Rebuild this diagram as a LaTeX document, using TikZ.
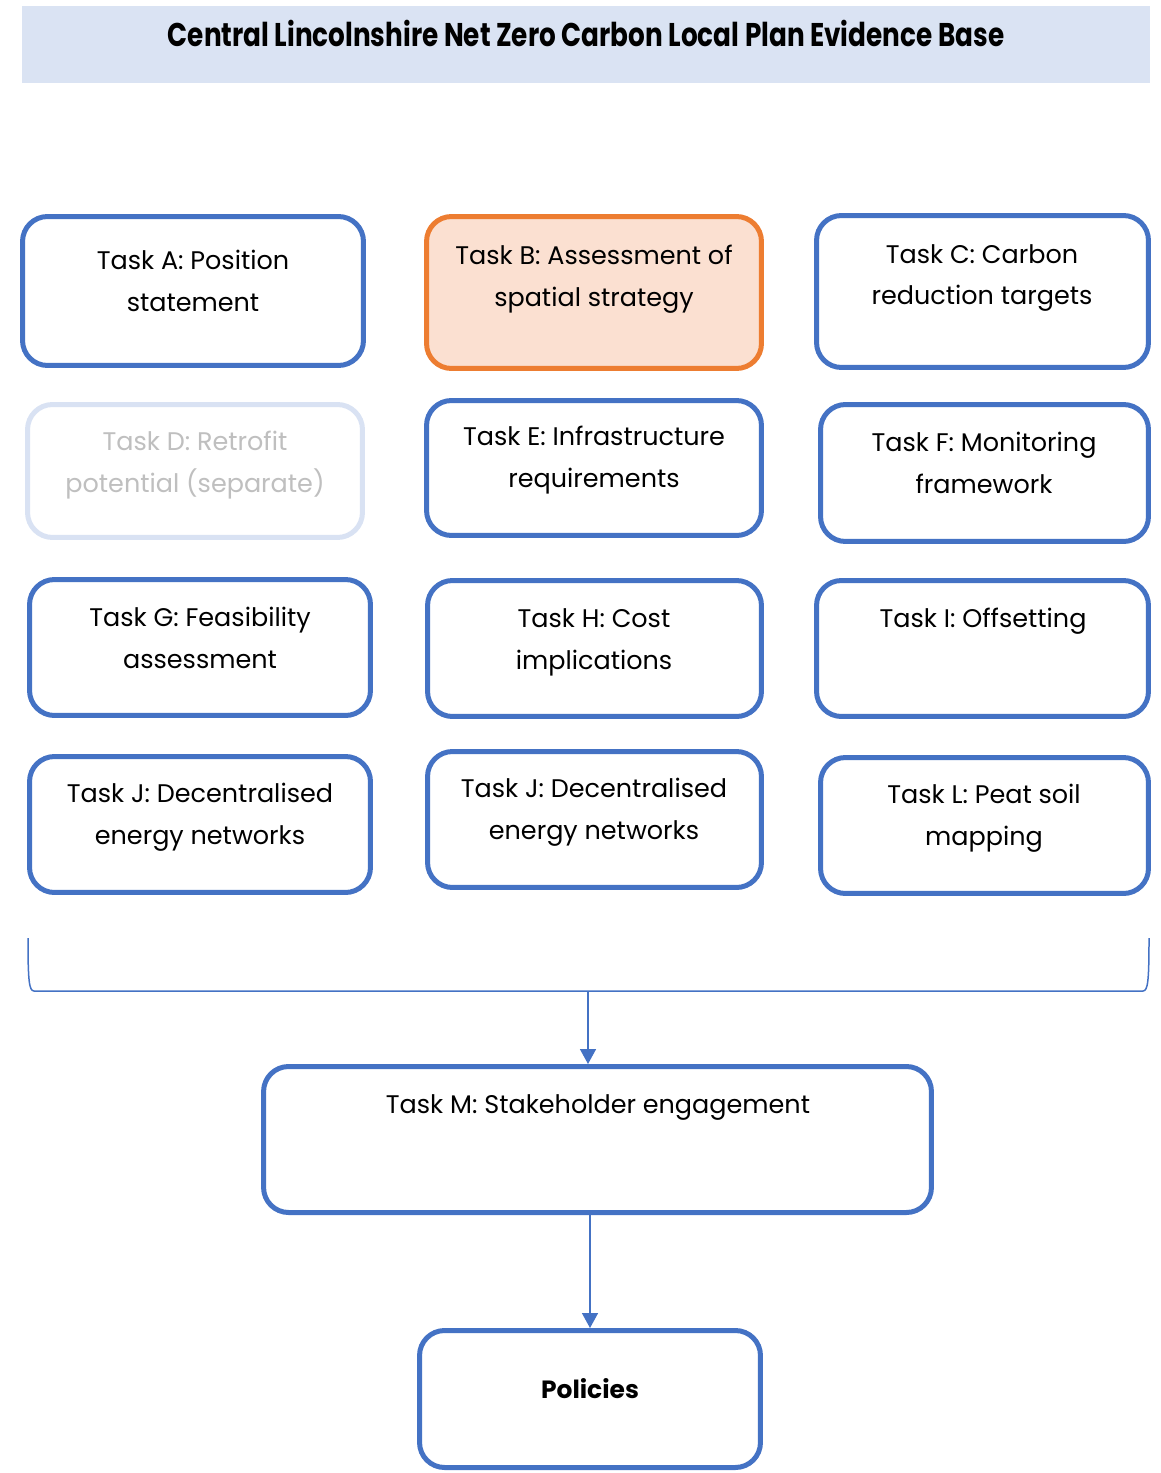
\documentclass[tikz,border=0pt]{standalone}
\usepackage{fontspec}
\setmainfont{Poppins}
\newfontfamily\titlefont{Poppins}[FakeStretch=0.8]
\usetikzlibrary{arrows.meta,positioning}
\definecolor{taskblue}{HTML}{4472C4}
\definecolor{taskorange}{HTML}{ED7D31}
\definecolor{taskpeach}{HTML}{FBE0D1}
\definecolor{titlebg}{HTML}{DAE3F3}
\definecolor{fadeline}{HTML}{D9E2F3}
\definecolor{fadetext}{HTML}{BFBFBF}
\tikzset{
  taskbox/.style={draw=taskblue, line width=0.1cm, rounded corners=0.5cm, fill=white},
  keybox/.style={taskbox, draw=taskorange, fill=taskpeach},
  fadebox/.style={taskbox, draw=fadeline},
  tasktext/.style={align=center, inner sep=0pt, font=\fontsize{14.5}{23.8}\selectfont},
  link/.style={draw=taskblue, line width=0.03cm, -{Triangle[width=0.32cm,length=0.3cm]}}
}

\begin{document}
\begin{tikzpicture}[x=0.02cm, y=-0.02cm]
			\useasboundingbox (0,0) rectangle (1160,1473);
			% title bar
			\node[fill=titlebg, minimum width=22.56cm, minimum height=1.54cm, inner sep=0pt] (titlebar) at (586,44.5) {};
			\node[tasktext, font=\titlefont\bfseries\fontsize{18.7}{22}\selectfont] (title) at (586,33) {Central Lincolnshire Net Zero Carbon Local Plan Evidence Base};
			% row 1
			\node[taskbox, minimum width=6.82cm, minimum height=2.98cm] (A) at (193,291) {};
			\node[keybox, minimum width=6.70cm, minimum height=3.04cm] (B) at (594,292.5) {};
			\node[taskbox, minimum width=6.64cm, minimum height=3.04cm] (C) at (982.5,291.5) {};
			\node[tasktext] (Atext) at (193,281) {Task A: Position\\statement};
			\node[tasktext] (Btext) at (594,279) {Task B: Assessment of\\spatial strategy};
			\node[tasktext] (Ctext) at (982,278) {Task C: Carbon\\reduction targets};
			% row 2
			\node[fadebox, minimum width=6.70cm, minimum height=2.66cm] (D) at (195,471) {};
			\node[taskbox, minimum width=6.70cm, minimum height=2.70cm] (E) at (594,468) {};
			\node[taskbox, minimum width=6.56cm, minimum height=2.74cm] (F) at (984.5,473) {};
			\node[tasktext, text=fadetext] (Dtext) at (195,465) {Task D: Retrofit\\potential (separate)};
			\node[tasktext] (Etext) at (594,460) {Task E: Infrastructure\\requirements};
			\node[tasktext] (Ftext) at (984,463) {Task F: Monitoring\\framework};
			% row 3
			\node[taskbox, minimum width=6.82cm, minimum height=2.72cm] (G) at (200,647.5) {};
			\node[taskbox, minimum width=6.68cm, minimum height=2.72cm] (H) at (594.5,648.5) {};
			\node[taskbox, minimum width=6.64cm, minimum height=2.72cm] (I) at (982.5,648.5) {};
			\node[tasktext] (Gtext) at (200,638) {Task G: Feasibility\\assessment};
			\node[tasktext] (Htext) at (594,642) {Task H: Cost\\implications};
			\node[tasktext] (Itext) at (983,621) {Task I: Offsetting};
			% row 4
			\node[taskbox, minimum width=6.82cm, minimum height=2.72cm] (J) at (200,824.5) {};
			\node[taskbox, minimum width=6.68cm, minimum height=2.72cm] (K) at (594.5,819.5) {};
			\node[taskbox, minimum width=6.56cm, minimum height=2.72cm] (L) at (984.5,825.5) {};
			\node[tasktext] (Jtext) at (200,817) {Task J: Decentralised\\energy networks};
			\node[tasktext] (Ktext) at (594,812) {Task J: Decentralised\\energy networks};
			\node[tasktext] (Ltext) at (984,818) {Task L: Peat soil\\mapping};
			% engagement and policies
			\node[taskbox, minimum width=13.36cm, minimum height=2.92cm] (M) at (597.5,1139.5) {};
			\node[tasktext] (Mtext) at (598,1107) {Task M: Stakeholder engagement};
			\node[taskbox, minimum width=6.82cm, minimum height=2.74cm] (P) at (590,1399) {};
			\node[tasktext, font=\bfseries\fontsize{14.2}{23.8}\selectfont] (Ptext) at (590,1389) {Policies};
			% bracket under the grid
			\coordinate (brkTL) at (28,938);
			\coordinate (brkTR) at (1149,938);
			\coordinate (brk) at (588,991);
			\draw[taskblue, line width=0.03cm] (brkTL) .. controls (28,980) and (29,991) .. (34,991) -- (1143,991) .. controls (1148,991) and (1149,980) .. (brkTR);
			\draw[link] (brk) -- (brk |- M.north);
			\draw[link] (P.north |- M.south) -- (P.north);
		\end{tikzpicture}
\end{document}
